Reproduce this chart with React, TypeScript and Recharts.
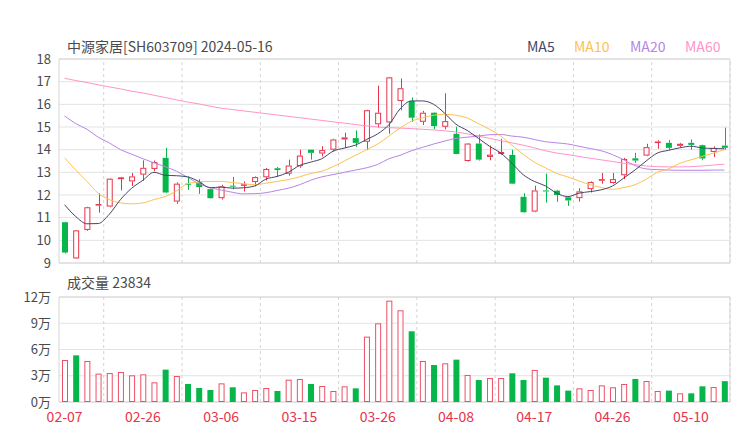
import {
  ComposedChart,
  Bar,
  Line,
  XAxis,
  YAxis,
  CartesianGrid,
  ReferenceLine,
  ReferenceArea,
} from 'recharts';

// trading days shown (MM-DD)
const dates = [
  '02-07', '02-08', '02-19', '02-20', '02-21', '02-22', '02-23', '02-26', '02-27', '02-28',
  '02-29', '03-01', '03-04', '03-05', '03-06', '03-07', '03-08', '03-11', '03-12', '03-13',
  '03-14', '03-15', '03-18', '03-19', '03-20', '03-21', '03-22', '03-25', '03-26', '03-27',
  '03-28', '03-29', '04-01', '04-02', '04-03', '04-08', '04-09', '04-10', '04-11', '04-12',
  '04-15', '04-16', '04-17', '04-18', '04-19', '04-22', '04-23', '04-24', '04-25', '04-26',
  '04-29', '04-30', '05-06', '05-07', '05-08', '05-09', '05-10', '05-13', '05-14', '05-15',
];

const open = [
  10.8, 9.2, 10.46, 11.55, 11.49, 12.7, 12.6, 12.9, 13.15, 13.64,
  11.71, 12.5, 12.55, 12.26, 11.86, 12.41, 12.42, 12.57, 12.78, 13.18,
  12.94, 13.27, 14.0, 13.83, 14.0, 14.45, 14.51, 14.35, 15.12, 15.2,
  16.15, 16.15, 15.23, 15.63, 15.01, 14.7, 13.5, 14.27, 13.68, 13.81,
  13.77, 11.92, 11.27, 12.2, 12.19, 11.9, 11.86, 12.26, 12.63, 12.53,
  12.87, 13.62, 13.74, 14.29, 14.3, 14.17, 14.3, 14.2, 13.9, 14.18,
];
const close = [
  9.46, 10.44, 11.46, 11.6, 12.72, 12.78, 12.82, 13.2, 13.45, 12.11,
  12.5, 12.45, 12.35, 11.86, 12.38, 12.38, 12.47, 12.79, 13.15, 13.1,
  13.3, 13.74, 13.86, 13.98, 14.45, 14.54, 14.3, 15.74, 15.63, 17.19,
  16.71, 15.41, 15.63, 15.04, 15.26, 13.81, 14.27, 13.56, 13.78, 13.9,
  12.5, 11.24, 12.2, 12.18, 12.0, 11.76, 12.16, 12.57, 12.7, 12.7,
  13.59, 13.52, 14.11, 14.36, 14.08, 14.26, 14.21, 13.61, 14.08, 14.08,
];
const high = [
  10.82, 10.46, 11.48, 12.08, 12.74, 12.8, 12.97, 13.53, 13.52, 14.08,
  12.56, 12.82, 12.7, 12.28, 12.45, 12.8, 12.6, 12.82, 13.19, 13.24,
  13.56, 14.0, 14.0, 14.15, 14.48, 14.75, 14.85, 15.76, 16.82, 17.21,
  17.14, 16.3, 15.71, 15.65, 16.49, 15.01, 14.29, 14.67, 14.18, 14.48,
  14.0, 12.08, 12.41, 12.94, 12.23, 11.93, 12.3, 12.6, 12.97, 12.97,
  13.64, 13.86, 14.26, 14.42, 14.42, 14.3, 14.45, 14.22, 14.15, 14.97,
];
const low = [
  9.42, 9.18, 10.42, 11.22, 11.46, 12.2, 12.4, 12.63, 13.05, 12.08,
  11.61, 12.23, 12.05, 11.84, 11.8, 12.25, 12.15, 12.38, 12.64, 12.8,
  12.85, 13.2, 13.56, 13.7, 13.93, 14.08, 14.12, 13.98, 14.97, 14.7,
  15.74, 15.22, 15.09, 14.9, 14.9, 13.8, 13.48, 13.52, 13.53, 13.78,
  12.48, 11.22, 11.24, 11.67, 11.7, 11.52, 11.71, 12.11, 12.5, 12.5,
  12.7, 13.41, 13.71, 14.04, 14.0, 14.12, 14.0, 13.53, 13.67, 14.0,
];

const ma5 = [
  11.57, 11.05, 10.73, 10.74, 11.15, 11.8, 12.3, 12.65, 13.0, 12.87,
  12.85, 12.8, 12.6, 12.32, 12.35, 12.3, 12.32, 12.4, 12.7, 12.82,
  13.0, 13.3, 13.45, 13.6, 13.93, 14.07, 14.2, 14.45, 14.7, 15.1,
  15.8, 16.15, 16.15, 16.0, 15.6, 15.12, 14.85, 14.5, 14.15, 13.85,
  13.4, 12.9, 12.6, 12.4, 12.08, 11.93, 12.08, 12.15, 12.23, 12.4,
  12.75, 13.1, 13.5, 13.85, 13.97, 14.08, 14.15, 14.08, 14.05, 14.04,
];
const ma10 = [
  13.64, 13.1, 12.6, 12.08, 11.8, 11.65, 11.61, 11.65, 11.8, 11.93,
  12.18, 12.5, 12.58, 12.6, 12.6, 12.55, 12.5, 12.45, 12.52, 12.6,
  12.68, 12.8, 12.95, 13.05, 13.25, 13.5, 13.75, 14.0, 14.25, 14.6,
  14.95, 15.25, 15.4, 15.52, 15.56, 15.52, 15.4, 15.15, 14.9, 14.6,
  14.2, 13.8, 13.45, 13.2, 12.95, 12.8, 12.62, 12.45, 12.33, 12.25,
  12.33, 12.45, 12.7, 13.0, 13.15, 13.4, 13.55, 13.7, 13.85, 14.0,
];
const ma20 = [
  15.49, 15.15, 14.9, 14.55, 14.3, 14.0, 13.8, 13.6, 13.42, 13.25,
  13.05, 12.78, 12.5, 12.33, 12.22, 12.12, 12.05, 12.06, 12.1, 12.2,
  12.3, 12.45, 12.65, 12.8, 12.9, 13.0, 13.1, 13.2, 13.35, 13.6,
  13.75, 13.95, 14.1, 14.25, 14.38, 14.5, 14.55, 14.6, 14.66, 14.67,
  14.6, 14.55, 14.45, 14.35, 14.3, 14.25, 14.15, 14.05, 13.95, 13.78,
  13.55, 13.3, 13.15, 13.12, 13.1, 13.09, 13.09, 13.09, 13.1, 13.1,
];
const ma60 = [
  17.15, 17.05, 16.96, 16.86, 16.77, 16.68, 16.58, 16.5, 16.4, 16.3,
  16.2, 16.1, 16.02, 15.92, 15.83, 15.77, 15.71, 15.65, 15.59, 15.53,
  15.47, 15.41, 15.35, 15.29, 15.23, 15.17, 15.11, 15.05, 15.0, 14.97,
  14.95, 14.93, 14.9, 14.87, 14.83, 14.78, 14.7, 14.6, 14.5, 14.4,
  14.3, 14.2, 14.08, 13.95, 13.85, 13.78, 13.7, 13.62, 13.55, 13.48,
  13.4, 13.34, 13.28, 13.25, 13.24, 13.24, 13.25, 13.28, 13.32, 13.36,
];

// volume in 万 (10k lots)
const volume = [
  4.8, 5.33, 4.69, 3.24, 3.31, 3.43, 3.05, 3.16, 2.25, 3.7,
  2.97, 2.06, 1.6, 1.37, 2.13, 1.68, 1.1, 1.37, 1.6, 1.26,
  2.55, 2.63, 2.06, 1.83, 1.26, 1.79, 1.56, 7.47, 8.99, 11.58,
  10.48, 8.08, 4.69, 4.23, 4.42, 4.84, 3.09, 2.51, 2.74, 2.74,
  3.28, 2.51, 3.66, 2.78, 1.9, 1.3, 1.56, 1.37, 1.9, 1.68,
  2.06, 2.63, 2.4, 1.26, 1.3, 0.99, 0.99, 1.79, 1.71, 2.3834,
];
// 1 = red (hollow), 0 = green
const volUp = [
  1, 0, 1, 1, 1, 1, 1, 1, 1, 0,
  1, 0, 0, 0, 1, 0, 1, 1, 1, 0,
  1, 1, 0, 1, 1, 1, 0, 1, 1, 1,
  1, 0, 1, 0, 1, 0, 1, 0, 1, 1,
  0, 0, 1, 0, 0, 0, 1, 1, 1, 1,
  1, 0, 1, 1, 0, 1, 0, 0, 1, 0,
];

const tickDates = ['02-07', '02-26', '03-06', '03-15', '03-26', '04-08', '04-17', '04-26', '05-10'];
const priceTicks = [9, 10, 11, 12, 13, 14, 15, 16, 17, 18];
const volTicks = [0, 3, 6, 9, 12];
const lastVolume = 23834;

const RED = '#e8334a';
const VOL_RED = '#ec5066';
const GREEN = '#06b64a';
const FONT = '"Noto Sans CJK SC", "Noto Sans", sans-serif';

const rows = dates.map((d, i) => ({
  i,
  date: d,
  open: open[i],
  close: close[i],
  high: high[i],
  low: low[i],
  range: [low[i], high[i]],
  ma5: ma5[i],
  ma10: ma10[i],
  ma20: ma20[i],
  ma60: ma60[i],
  vol: volume[i],
  volUp: volUp[i],
}));

const tickIdx = tickDates.map((t) => dates.indexOf(t));
const xDomain = [-0.5, dates.length - 0.5];
const sepLines = tickIdx.map((t) => t + 3.5);

const Candle = (props: any) => {
  const { x, y, width, height, payload } = props;
  const top = Math.min(y, y + height);
  const h = Math.abs(height);
  const span = payload.high - payload.low;
  const k = span > 0 ? h / span : 0;
  const oy = top + (payload.high - payload.open) * k;
  const cy = top + (payload.high - payload.close) * k;
  const up = payload.close >= payload.open;
  const color = up ? RED : GREEN;
  const cx = Math.round(x + width / 2) + 0.5;
  const bTop = Math.min(oy, cy);
  const bH = Math.max(Math.abs(cy - oy), 1);
  return (
    <g>
      <line x1={cx} x2={cx} y1={top} y2={bTop} stroke={color} />
      <line x1={cx} x2={cx} y1={bTop + bH} y2={top + h} stroke={color} />
      {up ? (
        <rect x={x + 0.5} y={bTop + 0.5} width={width - 1} height={Math.max(bH - 1, 0.5)} fill="#fff" stroke={color} />
      ) : (
        <rect x={x} y={bTop} width={width} height={bH} fill={color} />
      )}
    </g>
  );
};

const VolBar = (props: any) => {
  const { x, y, width, height, payload } = props;
  if (payload.volUp) {
    return <rect x={x + 0.5} y={y + 0.5} width={width - 1} height={Math.max(height - 1, 0)} fill="#fff" stroke={VOL_RED} />;
  }
  return <rect x={x} y={y} width={width} height={height} fill={GREEN} />;
};

const legend = [
  { name: 'MA5', color: '#45456b', left: 527 },
  { name: 'MA10', color: '#ffc04f', left: 574 },
  { name: 'MA20', color: '#b685e6', left: 630 },
  { name: 'MA60', color: '#ff94c8', left: 685 },
];

export default function App() {
  return (
    <div style={{ position: 'absolute', left: 0, top: 0, width: 740, height: 440, background: '#fff', fontFamily: FONT }}>
      <div style={{ position: 'absolute', left: 67, top: 37, fontSize: 14, lineHeight: '18px', color: '#4a4a4a' }}>
        中源家居[SH603709] 2024-05-16
      </div>
      {legend.map((l) => (
        <div key={l.name} style={{ position: 'absolute', left: l.left, top: 37, fontSize: 14, lineHeight: '18px', color: l.color }}>
          {l.name}
        </div>
      ))}
      <div style={{ position: 'absolute', left: 67, top: 273, fontSize: 14, lineHeight: '18px', color: '#4a4a4a' }}>
        成交量 {lastVolume}
      </div>

      {/* price chart */}
      <div style={{ position: 'absolute', left: 0, top: 0 }}>
        <ComposedChart width={740} height={275} data={rows} margin={{ top: 59, right: 10, bottom: 12, left: 0 }}>
          <CartesianGrid vertical={false} stroke="#e3e3e3" />
          <XAxis type="number" dataKey="i" domain={xDomain} hide />
          <YAxis
            domain={[9, 18]}
            ticks={priceTicks}
            interval={0}
            width={59}
            axisLine={false}
            tickLine={false}
            tickMargin={2}
            tick={{ fontSize: 13, fill: '#4a4a4a', fontFamily: FONT }}
          />
          {sepLines.map((v) => (
            <ReferenceLine key={v} x={v} stroke="#d4d4d4" strokeDasharray="3 3" />
          ))}
          <ReferenceArea x1={xDomain[0]} x2={xDomain[1]} y1={9} y2={18} fill="none" stroke="#d6d6d6" />
          <Bar dataKey="range" barSize={6} shape={Candle} isAnimationActive={false} />
          <Line type="monotone" dataKey="ma60" stroke="#ff94c8" strokeWidth={1} dot={false} isAnimationActive={false} />
          <Line type="monotone" dataKey="ma20" stroke="#b685e6" strokeWidth={1} dot={false} isAnimationActive={false} />
          <Line type="monotone" dataKey="ma10" stroke="#ffc04f" strokeWidth={1} dot={false} isAnimationActive={false} />
          <Line type="monotone" dataKey="ma5" stroke="#45456b" strokeWidth={1} dot={false} isAnimationActive={false} />
        </ComposedChart>
      </div>

      {/* volume chart */}
      <div style={{ position: 'absolute', left: 0, top: 275 }}>
        <ComposedChart width={740} height={165} data={rows} margin={{ top: 22, right: 10, bottom: 8, left: 0 }}>
          <CartesianGrid vertical={false} stroke="#e3e3e3" />
          <XAxis
            type="number"
            dataKey="i"
            domain={xDomain}
            ticks={tickIdx}
            interval={0}
            tickFormatter={(v) => dates[v]}
            axisLine={false}
            tickLine={false}
            tickMargin={4}
            tick={{ fontSize: 14, fill: RED, fontFamily: FONT }}
          />
          <YAxis
            domain={[0, 12]}
            ticks={volTicks}
            interval={0}
            width={59}
            axisLine={false}
            tickLine={false}
            tickMargin={2}
            tickFormatter={(v) => `${v}万`}
            tick={{ fontSize: 13, fill: '#4a4a4a', fontFamily: FONT }}
          />
          {sepLines.map((v) => (
            <ReferenceLine key={v} x={v} stroke="#d4d4d4" strokeDasharray="3 3" />
          ))}
          <ReferenceArea x1={xDomain[0]} x2={xDomain[1]} y1={0} y2={12} fill="none" stroke="#d6d6d6" />
          <Bar dataKey="vol" barSize={6} shape={VolBar} isAnimationActive={false} />
        </ComposedChart>
      </div>
    </div>
  );
}
